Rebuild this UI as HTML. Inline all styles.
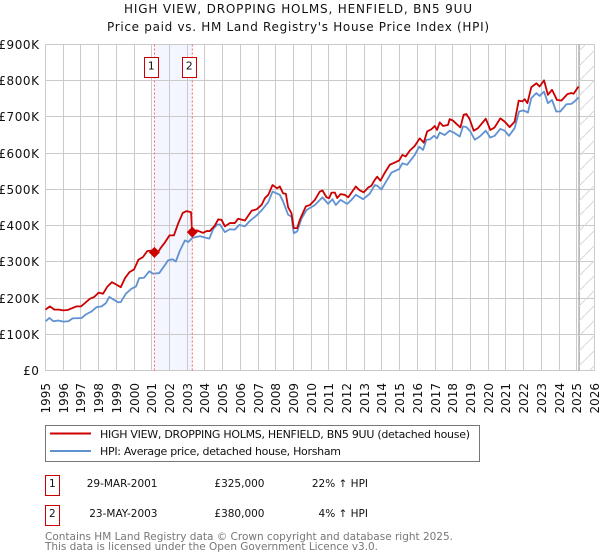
<!DOCTYPE html>
<html>
<head>
<meta charset="utf-8">
<title>HIGH VIEW, DROPPING HOLMS, HENFIELD, BN5 9UU</title>
<style>
html,body{margin:0;padding:0;background:#fff;}
svg{display:block;font-family:"DejaVu Sans","Liberation Sans",sans-serif;}
</style>
</head>
<body>
<svg id="chart" xmlns="http://www.w3.org/2000/svg" width="600" height="560" viewBox="0 0 600 560">
  <defs>
    <pattern id="hatch" patternUnits="userSpaceOnUse" width="15" height="15">
      <path d="M-2 17 L17 -2" stroke="#d8d8d8" stroke-width="1" fill="none"/>
    </pattern>
  </defs>
  <rect width="600" height="560" fill="#fff"/>
  <text x="298" y="13" text-anchor="middle" font-size="12" fill="#111" textLength="348" lengthAdjust="spacing">HIGH VIEW, DROPPING HOLMS, HENFIELD, BN5 9UU</text>
  <text x="298" y="31" text-anchor="middle" font-size="12" fill="#111" textLength="382" lengthAdjust="spacing">Price paid vs. HM Land Registry's House Price Index (HPI)</text>

  <rect id="band" y="44.5" height="326" fill="#f3f6fe"/>
  <g id="grid"></g>
  <rect id="future" y="44.5" height="326" fill="url(#hatch)"/>
  <g id="yticks"></g>
  <g id="xticks"></g>
  <g id="series"></g>
  <g id="sales"></g>

  <g>
    <rect x="45.5" y="425.5" width="434" height="36" fill="#fff" stroke="#777" stroke-width="1"/>
    <line x1="50" x2="91" y1="433.5" y2="433.5" stroke="#cc0000" stroke-width="2"/>
    <text x="100" y="438" font-size="11" fill="#111" textLength="370" lengthAdjust="spacing">HIGH VIEW, DROPPING HOLMS, HENFIELD, BN5 9UU (detached house)</text>
    <line x1="50" x2="91" y1="451" y2="451" stroke="#6092d2" stroke-width="2"/>
    <text x="100" y="455" font-size="11" fill="#111" textLength="241" lengthAdjust="spacing">HPI: Average price, detached house, Horsham</text>
  </g>

  <g font-size="10.5" fill="#111">
    <rect x="45.5" y="475.5" width="14" height="20" fill="#fff" stroke="#cc0000" stroke-width="1"/>
    <text x="52.3" y="487" text-anchor="middle">1</text>
    <text x="157.5" y="487" text-anchor="end">29-MAR-2001</text>
    <text x="264.5" y="487" text-anchor="end">£325,000</text>
    <text x="368" y="487" text-anchor="end">22% ↑ HPI</text>
  </g>
  <g font-size="10.5" fill="#111">
    <rect x="45.5" y="505.5" width="14" height="20" fill="#fff" stroke="#cc0000" stroke-width="1"/>
    <text x="52.3" y="517" text-anchor="middle">2</text>
    <text x="157.5" y="517" text-anchor="end">23-MAY-2003</text>
    <text x="264.5" y="517" text-anchor="end">£380,000</text>
    <text x="368" y="517" text-anchor="end">4% ↑ HPI</text>
  </g>

  <text x="45" y="540" font-size="10.5" fill="#777" textLength="408" lengthAdjust="spacing">Contains HM Land Registry data © Crown copyright and database right 2025.</text>
  <text x="45" y="550" font-size="10.5" fill="#777" textLength="333" lengthAdjust="spacing">This data is licensed under the Open Government Licence v3.0.</text>
</svg>
<script>
var xTickYears = [1995,1996,1997,1998,1999,2000,2001,2002,2003,2004,2005,2006,2007,2008,2009,2010,2011,2012,2013,2014,2015,2016,2017,2018,2019,2020,2021,2022,2023,2024,2025,2026];
var yTickValues = [0,100,200,300,400,500,600,700,800,900];
var yTickLabels = ['£0','£100K','£200K','£300K','£400K','£500K','£600K','£700K','£800K','£900K'];

var priceDates = [1995,1995.25,1995.5,1995.75,1996,1996.25,1996.5,1996.75,1997,1997.25,1997.5,1997.75,1998,1998.25,1998.5,1998.75,1999,1999.25,1999.5,1999.75,2000,2000.25,2000.5,2000.75,2001,2001.15,2001.3,2001.5,2001.75,2002,2002.25,2002.5,2002.75,2002.97,2003.22,2003.28,2003.53,2003.9,2004.1,2004.28,2004.56,2004.75,2004.94,2005.13,2005.41,2005.69,2005.88,2006.26,2006.64,2006.92,2007.2,2007.39,2007.58,2007.82,2008.08,2008.23,2008.42,2008.57,2008.7,2008.89,2009.02,2009.21,2009.36,2009.7,2009.93,2010.21,2010.49,2010.64,2010.87,2011.02,2011.15,2011.34,2011.47,2011.66,2011.9,2012.09,2012.28,2012.52,2012.75,2012.97,2013.22,2013.4,2013.59,2013.73,2013.91,2014.16,2014.44,2014.72,2014.97,2015.15,2015.34,2015.57,2015.85,2016.13,2016.36,2016.55,2016.79,2016.98,2017.11,2017.26,2017.45,2017.73,2017.82,2018.01,2018.2,2018.43,2018.61,2018.77,2018.95,2019.18,2019.42,2019.86,2020.12,2020.36,2020.68,2020.93,2021.21,2021.49,2021.72,2021.93,2022.06,2022.21,2022.43,2022.72,2022.9,2023.15,2023.37,2023.6,2023.88,2024.13,2024.47,2024.69,2024.82,2025.1];
var priceValues = [168,177,168,168,166,167,172,177,177,187,198,203,215,212,232,244,237,230,256,272,279,306,313,330,331,326,322,338,354,373,373,407,435,440,437,380,387,380,385,385,400,417,416,398,407,407,419,414,441,445,457,476,485,512,503,508,489,488,451,434,393,393,416,453,457,471,494,497,478,476,491,491,476,487,485,478,491,508,497,492,505,510,526,535,524,546,568,574,580,595,591,607,620,641,629,660,666,675,664,685,675,678,694,690,681,671,706,708,694,662,669,695,664,671,696,687,672,687,745,743,749,738,782,793,784,801,761,775,747,745,763,766,764,784];

var hpiDates = [1995.01,1995.22,1995.44,1995.72,1996.01,1996.29,1996.53,1997.04,1997.29,1997.6,1997.89,1998.17,1998.41,1998.6,1998.87,1999.11,1999.25,1999.54,1999.86,2000.11,2000.29,2000.56,2000.86,2001.08,2001.42,2001.73,2001.92,2002.17,2002.36,2002.59,2002.87,2003.06,2003.3,2003.72,2003.94,2004.25,2004.47,2004.7,2004.85,2005.13,2005.41,2005.69,2005.94,2006.26,2006.54,2006.92,2007.2,2007.58,2007.82,2008.23,2008.42,2008.7,2008.89,2009.02,2009.21,2009.46,2009.74,2010.21,2010.64,2010.96,2011.2,2011.39,2011.66,2012.03,2012.28,2012.52,2012.94,2013.31,2013.59,2013.73,2013.97,2014.25,2014.53,2014.97,2015.15,2015.42,2015.85,2016.1,2016.32,2016.51,2016.7,2016.94,2017.11,2017.26,2017.54,2017.82,2018.05,2018.39,2018.58,2018.77,2018.99,2019.24,2019.52,2019.86,2020.12,2020.36,2020.68,2020.93,2021.17,2021.49,2021.74,2021.99,2022.24,2022.43,2022.72,2022.9,2023.15,2023.37,2023.6,2023.84,2024.07,2024.41,2024.69,2024.88,2025.1];
var hpiValues = [136,145,136,138,135,136,144,145,155,163,175,177,186,203,195,188,189,212,226,232,255,256,274,267,269,290,304,307,301,331,359,355,366,371,368,364,391,403,403,382,390,389,402,398,413,428,442,465,494,485,466,430,425,379,384,420,443,457,478,460,473,457,471,460,471,485,473,488,512,510,500,523,546,556,572,568,595,618,609,637,638,648,641,657,650,662,657,646,674,672,660,637,646,662,643,648,667,662,648,669,715,718,712,752,766,758,770,738,747,715,715,735,736,743,754];

var saleDates = [2001.15,2003.29];
var saleValues = [326,382];
var saleLabels = ['1','2'];

var lastDataYear = 2025.13;

var NS = 'http://www.w3.org/2000/svg';
var plotLeft = 45.5, plotRight = 594.5, plotTop = 44.5, plotBottom = 370.5;
function xScale(year){ return plotLeft + (year - 1995) * (plotRight - plotLeft) / 31; }
function yScale(value){ return plotBottom - value * (plotBottom - plotTop) / 900; }
function make(tag, parent, attrs){
  var el = document.createElementNS(NS, tag);
  for (var k in attrs) el.setAttribute(k, attrs[k]);
  parent.appendChild(el);
  return el;
}
function pathFrom(dates, values){
  return dates.map(function(d, i){
    return (i ? 'L' : 'M') + xScale(d).toFixed(2) + ' ' + yScale(values[i]).toFixed(2);
  }).join(' ');
}

var band = document.getElementById('band');
band.setAttribute('x', xScale(saleDates[0]));
band.setAttribute('width', xScale(saleDates[1]) - xScale(saleDates[0]));

var future = document.getElementById('future');
future.setAttribute('x', xScale(lastDataYear));
future.setAttribute('width', plotRight - xScale(lastDataYear));

var grid = document.getElementById('grid');
var xLabels = document.getElementById('xticks');
var yLabels = document.getElementById('yticks');

xTickYears.forEach(function(year){
  var x = Math.round(xScale(year) - 0.5) + 0.5;
  var line = make('line', grid, {x1:x, x2:x, y1:plotTop, y2:plotBottom, stroke:'#cacaca', 'stroke-width':1});
  
  
  var label = make('text', xLabels, {'font-size':12, fill:'#111', 'text-anchor':'end', transform:'translate(' + (x + 4.5) + ',383) rotate(-90)'});
  
  
  label.textContent = String(year);
});

yTickValues.forEach(function(value, i){
  var y = Math.round(yScale(value) - 0.5) + 0.5;
  var line = make('line', grid, {x1:plotLeft, x2:plotRight, y1:y, y2:y, stroke:'#cacaca', 'stroke-width':1});
  
  
  var label = make('text', yLabels, {x:39.5, y:y + 4.5, 'font-size':12, 'letter-spacing':'0.55', fill:'#111', 'text-anchor':'end'});
  
  
  label.textContent = yTickLabels[i];
});

var endLine = make('line', grid, {x1:xScale(lastDataYear), x2:xScale(lastDataYear), y1:plotTop, y2:plotBottom, stroke:'#aaa', 'stroke-width':1.5});



var seriesGroup = document.getElementById('series');
var hpiLine = make('path', seriesGroup, {d:pathFrom(hpiDates, hpiValues), fill:'none', stroke:'#6092d2', 'stroke-width':1.8, 'stroke-linejoin':'round'});


var priceLine = make('path', seriesGroup, {d:pathFrom(priceDates, priceValues), fill:'none', stroke:'#cc0000', 'stroke-width':1.8, 'stroke-linejoin':'round'});



var salesGroup = document.getElementById('sales');
saleDates.forEach(function(date, i){
  var x = xScale(date), y = yScale(saleValues[i]);
  var rule = make('line', salesGroup, {x1:x, x2:x, y1:plotTop, y2:plotBottom, stroke:'#ff6666', 'stroke-width':1, 'stroke-dasharray':'2 2'});
  
  
  var diamond = make('path', salesGroup, {d:'M' + x + ' ' + (y - 5.5) + ' L' + (x + 5.5) + ' ' + y + ' L' + x + ' ' + (y + 5.5) + ' L' + (x - 5.5) + ' ' + y + ' Z', fill:'#cc0000'});
  
  
  var box = make('rect', salesGroup, {x:Math.round(x - 10) + 0.5, y:57.5, width:14, height:20, fill:'#fff', stroke:'#cc0000', 'stroke-width':1});
  
  
  var flag = make('text', salesGroup, {x:Math.round(x - 10) + 7.3, y:69.5, 'font-size':11, fill:'#111', 'text-anchor':'middle'});
  
  
  flag.textContent = saleLabels[i];
});
</script>
</body>
</html>
